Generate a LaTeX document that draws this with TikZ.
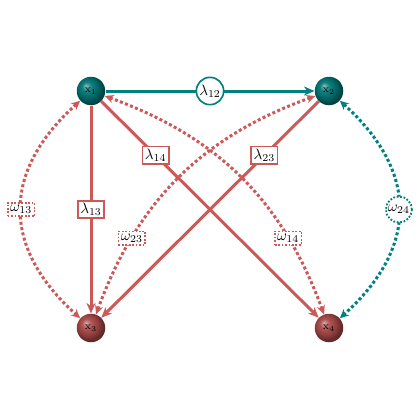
\documentclass[tikz,border=0pt]{standalone}
\usetikzlibrary{arrows.meta,shapes.geometric}
\definecolor{lred}{RGB}{205,88,88}
\definecolor{lteal}{RGB}{0,128,128}
\definecolor{bred}{RGB}{170,72,72}
\definecolor{bteal}{RGB}{0,118,118}
\pgfdeclareradialshading{tealshade}{\pgfqpoint{-9bp}{9bp}}{color(0bp)=(bteal!45!white); color(8bp)=(bteal!92!white); color(18bp)=(bteal!85!black); color(25bp)=(bteal!60!black); color(50bp)=(bteal!30!black)}
\pgfdeclareradialshading{redshade}{\pgfqpoint{-9bp}{9bp}}{color(0bp)=(bred!45!white); color(8bp)=(bred!92!white); color(18bp)=(bred!85!black); color(25bp)=(bred!60!black); color(50bp)=(bred!30!black)}
\begin{document}
\begin{tikzpicture}[x=0.6667pt,y=-0.6667pt,
  ballnode/.style={circle,minimum size=19pt,inner sep=0pt},
  balltext/.style={text=black,font=\scriptsize,inner sep=0pt},
  tealball/.style={ballnode,shading=tealshade},
  redball/.style={ballnode,shading=redshade},
  solidred/.style={draw=lred,line width=2pt,-{Stealth[length=7pt,width=6pt]}},
  solidteal/.style={draw=lteal,line width=2pt,-{Stealth[length=7pt,width=6pt]}},
  dotred/.style={draw=lred,line width=2pt,dash pattern=on 2pt off 1.6pt,{Stealth[length=6pt,width=5.5pt]}-{Stealth[length=6pt,width=5.5pt]}},
  dotteal/.style={draw=lteal,line width=2pt,dash pattern=on 2pt off 1.6pt,{Stealth[length=6pt,width=5.5pt]}-{Stealth[length=6pt,width=5.5pt]}},
  lbox/.style={rectangle,draw=lred,fill=white,line width=1.1pt,solid,inner sep=1.6pt},
  wbox/.style={rectangle,draw=lred,fill=white,line width=1.2pt,dash pattern=on 1.2pt off 1.1pt,inner sep=1.6pt},
  lcirc/.style={circle,draw=lteal,fill=white,line width=1.1pt,solid,inner sep=0.6pt},
  wcirc/.style={circle,draw=lteal,fill=white,line width=1.2pt,dash pattern=on 1.2pt off 1.1pt,inner sep=0.6pt}
]
\useasboundingbox (0,0) rectangle (420,420);
\node[tealball] (x1) at (91,91) {};
\node[tealball] (x2) at (329,91) {};
\node[redball] (x3) at (91,328) {};
\node[redball] (x4) at (329,328) {};
\node[balltext] (t1) at (x1) {$\mathrm{x}_1$};
\node[balltext] (t2) at (x2) {$\mathrm{x}_2$};
\node[balltext] (t3) at (x3) {$\mathrm{x}_3$};
\node[balltext] (t4) at (x4) {$\mathrm{x}_4$};

\draw[dotred] (x1) to[bend right=48, looseness=1.25] node[wbox,pos=0.5] {$\omega_{13}$} (x3);
\draw[dotteal] (x2) to[bend left=48, looseness=1.25] node[wcirc,pos=0.5] {$\omega_{24}$} (x4);
\draw[dotred] (x1) to[bend left=25] node[wbox,pos=0.75] {$\omega_{14}$} (x4);
\draw[dotred] (x2) to[bend right=25] node[wbox,pos=0.75] {$\omega_{23}$} (x3);

\draw[solidteal] (x1) -- node[lcirc] {$\lambda_{12}$} (x2);
\draw[solidred] (x1) -- node[lbox] {$\lambda_{13}$} (x3);
\draw[solidred] (x1) -- node[lbox,pos=0.25] {$\lambda_{14}$} (x4);
\draw[solidred] (x2) -- node[lbox,pos=0.25] {$\lambda_{23}$} (x3);
\end{tikzpicture}
\end{document}
